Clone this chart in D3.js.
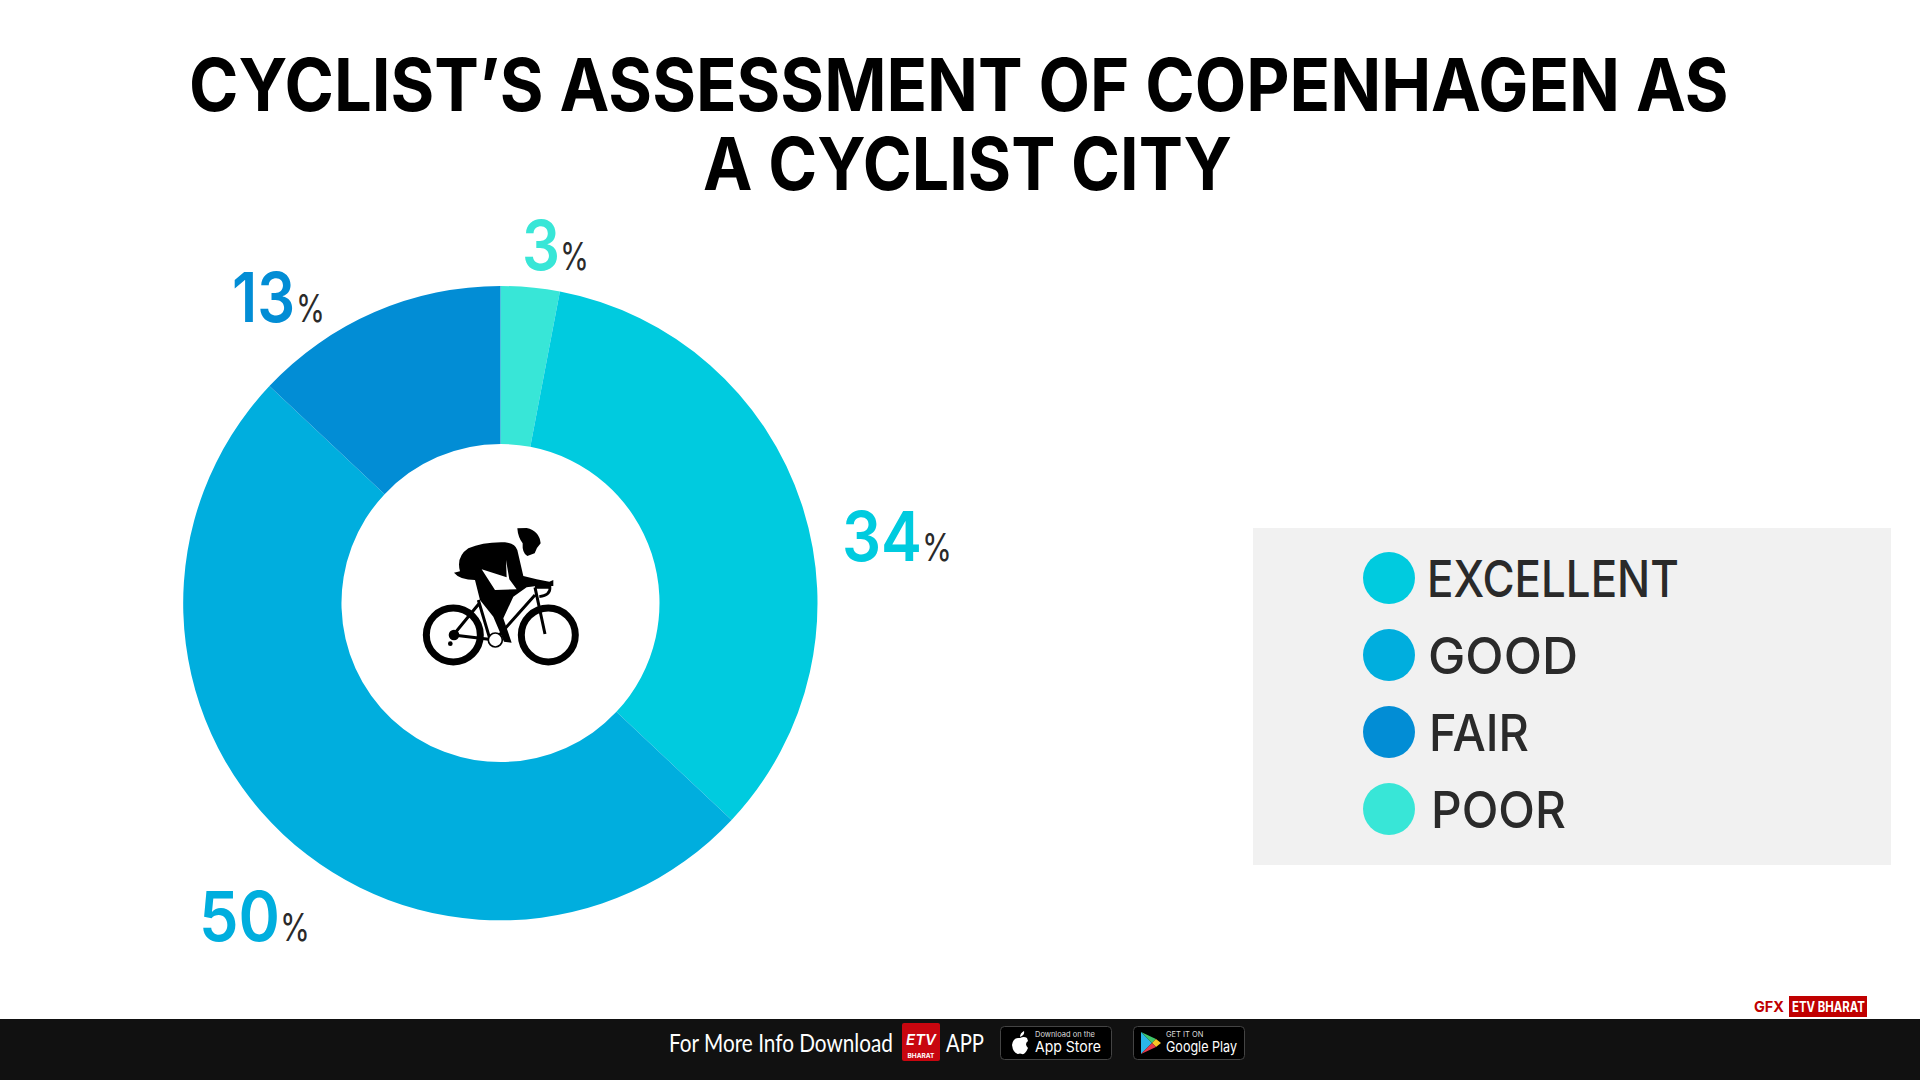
<!DOCTYPE html>
<html>
<head>
<meta charset="utf-8">
<script src="https://cdnjs.cloudflare.com/ajax/libs/d3/7.8.5/d3.min.js"></script>
<style>
  html, body { margin: 0; padding: 0; background: #fff; }
  text { font-family: Inter, "Noto Sans", sans-serif; }
</style>
</head>
<body>
<div id="main"></div>
<script>
var categories = ["POOR", "EXCELLENT", "GOOD", "FAIR"];
var values = [3, 34, 50, 13];
var colors = ["#38e6d7", "#00cbdf", "#00aede", "#028dd5"];
var legendOrder = ["EXCELLENT", "GOOD", "FAIR", "POOR"];
var titleLines = ["CYCLIST\u2019S ASSESSMENT OF COPENHAGEN AS", "A CYCLIST CITY"];

var width = 1920, height = 1080;
var cx = 500.5, cy = 603, outer = 317, inner = 159;

var svg = d3.select("#main")
  .append("svg")
  .attr("width", width)
  .attr("height", height)
  .style("display", "block");

var color = d3.scaleOrdinal().domain(categories).range(colors);

// stretch a text to a width from its left edge
function fit(sel, w) {
  sel.each(function(d, i) {
    var target = typeof w === "function" ? w(d, i) : w;
    var t = d3.select(this);
    var k = target / this.getComputedTextLength();
    var x = +t.attr("x"), y = +t.attr("y");
    t.attr("x", 0).attr("y", 0)
      .attr("transform", "translate(" + x + "," + y + ") scale(" + k + ",1)");
  });
}

// title
var titleBox = [[189, 111, 1540], [703, 190, 529]];
svg.selectAll(".title")
  .data(titleLines)
  .enter()
  .append("text")
  .classed("title", true)
  .attr("x", (d, i) => titleBox[i][0])
  .attr("y", (d, i) => titleBox[i][1])
  .style("font-size", "73px")
  .style("font-weight", 700)
  .style("fill", "#000")
  .text(d => d)
  .call(fit, (d, i) => titleBox[i][2]);

// donut
var pie = d3.pie().sort(null);
var arc = d3.arc().innerRadius(inner).outerRadius(outer);
var donut = svg.append("g").attr("transform", "translate(" + cx + "," + cy + ")");
donut.selectAll("path")
  .data(pie(values))
  .enter()
  .append("path")
  .attr("d", arc)
  .style("fill", (d, i) => colors[i]);

// value labels: x of number, baseline, number width, x of %, % width
var labelPos = [
  [522, 270, 38, 560, 29],
  [842, 561, 80, 922, 30],
  [199, 941, 81, 280, 30],
  [232, 322, 63, 296, 29]
];
var labels = svg.selectAll(".value")
  .data(values)
  .enter()
  .append("g")
  .classed("value", true);
labels.append("text")
  .attr("x", (d, i) => labelPos[i][0])
  .attr("y", (d, i) => labelPos[i][1])
  .style("font-size", "69px")
  .style("font-weight", 600)
  .style("fill", (d, i) => colors[i])
  .text(d => d)
  .call(fit, (d, i) => labelPos[i][2]);
labels.append("text")
  .attr("x", (d, i) => labelPos[i][3])
  .attr("y", (d, i) => labelPos[i][1])
  .style("font-size", "38px")
  .style("font-weight", 400)
  .style("fill", "#2a2a2a")
  .text("%")
  .call(fit, (d, i) => labelPos[i][4]);

// legend
svg.append("rect")
  .attr("x", 1253).attr("y", 528)
  .attr("width", 638).attr("height", 337)
  .style("fill", "#f1f1f1");
var legendY = d3.scalePoint().domain(legendOrder).range([578, 809]);
var legendText = { EXCELLENT: [1427, 252], GOOD: [1428, 150], FAIR: [1429, 100], POOR: [1431, 135] };
var legend = svg.selectAll(".legend")
  .data(legendOrder)
  .enter()
  .append("g")
  .classed("legend", true)
  .attr("transform", d => "translate(0," + legendY(d) + ")");
legend.append("circle")
  .attr("cx", 1389)
  .attr("r", 26)
  .style("fill", d => color(d));
legend.append("text")
  .attr("x", d => legendText[d][0])
  .attr("y", 19)
  .style("font-size", "51px")
  .style("font-weight", 500)
  .style("fill", "#2a2a2a")
  .text(d => d)
  .call(fit, d => legendText[d][1]);

// cyclist at 3x
var rider = svg.append("g").attr("transform", "translate(380,500) scale(0.3333)");
[[220, 405], [505, 405]].forEach(function(c) {
  rider.append("circle").attr("cx", c[0]).attr("cy", c[1]).attr("r", 81)
    .style("fill", "none").style("stroke", "#000").style("stroke-width", 21);
});
rider.append("path")
  .attr("d", "M412 85 L440 84 Q478 92 482 130 Q470 142 464 160 L442 168 Q426 160 428 130 Q414 112 412 85Z")
  .style("fill", "#000");
rider.append("path")
  .attr("d", "M222 218 L240 214 Q228 170 265 145 Q310 125 375 127 Q405 130 412 150 L430 228 L470 238 L508 245 L520 240 L520 258 L470 258 L440 262 L400 290 L370 355 L395 428 L372 425 L340 350 L300 300 L285 240 Q240 240 222 218Z")
  .style("fill", "#000");
rider.append("path")
  .attr("d", "M305 208 L380 232 L378 180 L388 238 L410 268 L345 270Z")
  .style("fill", "#fff");
rider.append("path")
  .attr("d", "M345 290 L395 280 L368 350 L352 345Z")
  .style("fill", "#000");
rider.append("path")
  .attr("d", "M220 405 L298 310 M220 405 L345 420 M345 420 L465 285 M295 300 L330 418 M465 262 L495 402")
  .style("fill", "none").style("stroke", "#000").style("stroke-width", 9);
rider.append("path")
  .attr("d", "M465 262 L510 262 Q512 285 478 290")
  .style("fill", "none").style("stroke", "#000").style("stroke-width", 8);
rider.append("circle").attr("cx", 346).attr("cy", 420).attr("r", 21)
  .style("fill", "#fff").style("stroke", "#000").style("stroke-width", 5);
rider.append("circle").attr("cx", 222).attr("cy", 405).attr("r", 16).style("fill", "#000");
rider.append("circle").attr("cx", 211).attr("cy", 431).attr("r", 7).style("fill", "#000");

// gfx credit
svg.append("text")
  .attr("x", 1754).attr("y", 1012)
  .style("font-size", "15px").style("font-weight", 700).style("fill", "#c00000")
  .text("GFX")
  .call(fit, 30);
svg.append("rect")
  .attr("x", 1789).attr("y", 996).attr("width", 78).attr("height", 21)
  .style("fill", "#c00000");
svg.append("text")
  .attr("x", 1792).attr("y", 1012)
  .style("font-size", "14px").style("font-weight", 700).style("fill", "#fff")
  .text("ETV BHARAT")
  .call(fit, 73);

// footer
svg.append("rect")
  .attr("x", 0).attr("y", 1019).attr("width", width).attr("height", 61)
  .style("fill", "#111");
svg.append("text")
  .attr("x", 669).attr("y", 1052)
  .style("font-family", "Lato").style("font-size", "25px").style("font-weight", 400).style("fill", "#fff")
  .text("For More Info Download")
  .call(fit, 224);
svg.append("text")
  .attr("x", 946).attr("y", 1052)
  .style("font-family", "Lato").style("font-size", "25px").style("font-weight", 400).style("fill", "#fff")
  .text("APP")
  .call(fit, 38);

// etv logo
svg.append("rect")
  .attr("x", 902).attr("y", 1023).attr("width", 38).attr("height", 38).attr("rx", 2)
  .style("fill", "#c8060f");
svg.append("text")
  .attr("x", 921).attr("y", 1045).attr("text-anchor", "middle")
  .style("font-size", "15px").style("font-style", "italic").style("font-weight", 600).style("fill", "#fff")
  .text("ETV");
svg.append("text")
  .attr("x", 921).attr("y", 1058).attr("text-anchor", "middle")
  .style("font-size", "6.5px").style("font-weight", 700).style("fill", "#fff")
  .text("BHARAT");

// store badges: left edge, first line, second line, text x, text width
[[1000, "Download on the", "App Store", 35, 66], [1133, "GET IT ON", "Google Play", 33, 71]].forEach(function(b) {
  var g = svg.append("g").attr("transform", "translate(" + b[0] + ",1026)");
  g.append("rect").attr("x", 0.5).attr("y", 0.5).attr("width", 111).attr("height", 33).attr("rx", 4)
    .style("fill", "#000").style("stroke", "#444");
  g.append("text").attr("x", b[3]).attr("y", 11)
    .style("font-size", "7.5px").style("fill", "#ddd").text(b[1]);
  g.append("text").attr("x", b[3]).attr("y", 26)
    .style("font-size", "15px").style("font-weight", 400).style("fill", "#fff").text(b[2])
    .call(fit, b[4]);
});
var apple = svg.append("g").attr("transform", "translate(1010,1031)");
apple.append("path")
  .attr("d", "M10 7 Q14 5 17 7 L18 10 Q14 13 18 17 Q15 24 12 23 Q10 22 8 23 Q3 22 2 14 Q3 6 10 7Z M10 6 Q10 2 14 0 Q15 4 10 6Z")
  .style("fill", "#fff");
var play = svg.append("g").attr("transform", "translate(1141,1032)");
play.append("path").attr("d", "M0 0 L11 11 L0 22Z").style("fill", "#29b6e8");
play.append("path").attr("d", "M0 0 L15 7 L11 11Z").style("fill", "#3ec66b");
play.append("path").attr("d", "M15 7 L20 11 L15 15 L11 11Z").style("fill", "#f9c325");
play.append("path").attr("d", "M0 22 L11 11 L15 15Z").style("fill", "#e8394a");
</script>
</body>
</html>
